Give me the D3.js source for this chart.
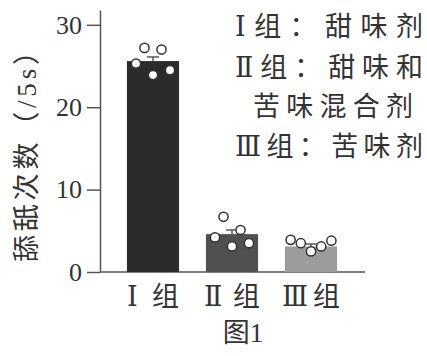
<!DOCTYPE html>
<html>
<head>
<meta charset="utf-8">
<script src="https://cdn.jsdelivr.net/npm/d3@7"></script>
<style>
  body { margin: 0; background: #fff; }
  svg { display: block; }
</style>
</head>
<body>
<div class="chart"></div>
<script>
let svgWidth = 427;
let svgHeight = 356;

// data
let groups = ["Ⅰ组", "Ⅱ组", "Ⅲ组"];
let means = [25.6, 4.6, 3.1];
let errors = [0.5, 0.5, 0.3];
let points1 = [25.3, 27.2, 23.9, 27.0, 24.5];
let points2 = [4.2, 6.7, 3.1, 5.1, 3.5];
let points3 = [3.9, 3.5, 2.5, 3.1, 3.8];
let yTicks = [0, 10, 20, 30];
let legendLines = ["Ⅰ组：甜味剂", "Ⅱ组：甜味和", "苦味混合剂", "Ⅲ组：苦味剂"];
let barColors = ["#2b2b2b", "#505050", "#9c9c9c"];

let allPoints = [points1, points2, points3];

let svg = d3.select(".chart")
    .append("svg")
    .attr("width", svgWidth)
    .attr("height", svgHeight);

let xScale = d3.scaleBand()
    .domain(groups)
    .range([113.5, 350.5])
    .paddingInner(0.34)
    .paddingOuter(0.17);

let yScale = d3.scaleLinear()
    .domain([0, 31.8])
    .range([272, 10]);

let axisColor = "#555";
let textColor = "#333";
// serif for latin / roman numerals, CJK falls through to Noto
let mixed = "'Liberation Serif', 'DejaVu Serif', 'Noto Sans CJK SC', serif";

// y axis
let leftAxis = d3.axisLeft(yScale)
    .tickValues(yTicks)
    .tickSize(13)
    .tickSizeOuter(0)
    .tickPadding(5);

let yAxis = svg.append("g")
    .attr("transform", "translate(100, 0)")
    .call(leftAxis);

yAxis.select(".domain").attr("stroke", axisColor).attr("stroke-width", 1.5);
yAxis.selectAll(".tick line").attr("stroke", axisColor).attr("stroke-width", 1.5);
yAxis.selectAll(".tick text")
    .attr("fill", textColor)
    .style("font-family", "'Liberation Serif', 'DejaVu Serif', serif")
    .style("font-size", "26px");

// x axis line
svg.append("line")
    .attr("x1", 100)
    .attr("x2", 365)
    .attr("y1", yScale(0))
    .attr("y2", yScale(0))
    .attr("stroke", axisColor)
    .attr("stroke-width", 1.5);

// bars
svg.selectAll(".bar")
    .data(groups)
    .enter()
    .append("rect")
    .classed("bar", true)
    .attr("x", d => xScale(d))
    .attr("y", (d, i) => yScale(means[i]))
    .attr("width", xScale.bandwidth())
    .attr("height", (d, i) => yScale(0) - yScale(means[i]))
    .attr("fill", (d, i) => barColors[i]);

// error bars (upper only)
groups.forEach((g, i) => {
    let cx = xScale(g) + xScale.bandwidth() / 2;
    svg.append("line")
        .attr("x1", cx).attr("x2", cx)
        .attr("y1", yScale(means[i]))
        .attr("y2", yScale(means[i] + errors[i]))
        .attr("stroke", textColor)
        .attr("stroke-width", 1.2);
    svg.append("line")
        .attr("x1", cx - 6).attr("x2", cx + 6)
        .attr("y1", yScale(means[i] + errors[i]))
        .attr("y2", yScale(means[i] + errors[i]))
        .attr("stroke", textColor)
        .attr("stroke-width", 1.2);
});

// individual points
let jitter = d3.scalePoint()
    .domain(d3.range(5))
    .range([-17, 17]);

groups.forEach((g, i) => {
    let cx = xScale(g) + xScale.bandwidth() / 2;
    svg.selectAll(".pt" + i)
        .data(allPoints[i])
        .enter()
        .append("circle")
        .attr("cx", (d, j) => cx + jitter(j) * (i === 2 ? 1.2 : 1))
        .attr("cy", d => yScale(d))
        .attr("r", 4.6)
        .attr("fill", "#fff")
        .attr("stroke", "#333")
        .attr("stroke-width", 1.5);
});

// x labels
svg.selectAll(".xlabel")
    .data(groups)
    .enter()
    .append("text")
    .attr("x", d => xScale(d) + xScale.bandwidth() / 2)
    .attr("y", 297)
    .attr("dominant-baseline", "central")
    .attr("text-anchor", "middle")
    .attr("textLength", (d, i) => [52, 56, 58][i])
    .attr("lengthAdjust", "spacing")
    .attr("fill", textColor)
    .style("font-family", mixed)
    .style("font-size", "27px")
    .text(d => d);

// figure caption
svg.append("text")
    .attr("x", 243)
    .attr("y", 333)
    .attr("dominant-baseline", "central")
    .attr("text-anchor", "middle")
    .attr("fill", textColor)
    .style("font-family", mixed)
    .style("font-size", "27px")
    .text("图1");

// y axis title
svg.append("text")
    .attr("transform", "translate(27, 150) rotate(-90)")
    .attr("dominant-baseline", "central")
    .attr("text-anchor", "middle")
    .attr("textLength", 224)
    .attr("lengthAdjust", "spacing")
    .attr("fill", textColor)
    .style("font-family", mixed)
    .style("font-size", "27px")
    .text("舔舐次数（/5s）");

// legend text
let legendY = [27, 68, 107, 147];
let legendX = [235, 235, 253, 235];
let legendW = [188, 188, 160, 188];

svg.selectAll(".legend")
    .data(legendLines)
    .enter()
    .append("text")
    .attr("x", (d, i) => legendX[i])
    .attr("y", (d, i) => legendY[i])
    .attr("dominant-baseline", "central")
    .attr("textLength", (d, i) => legendW[i])
    .attr("lengthAdjust", "spacing")
    .attr("fill", textColor)
    .style("font-family", mixed)
    .style("font-size", "27px")
    .text(d => d);
</script>
</body>
</html>
